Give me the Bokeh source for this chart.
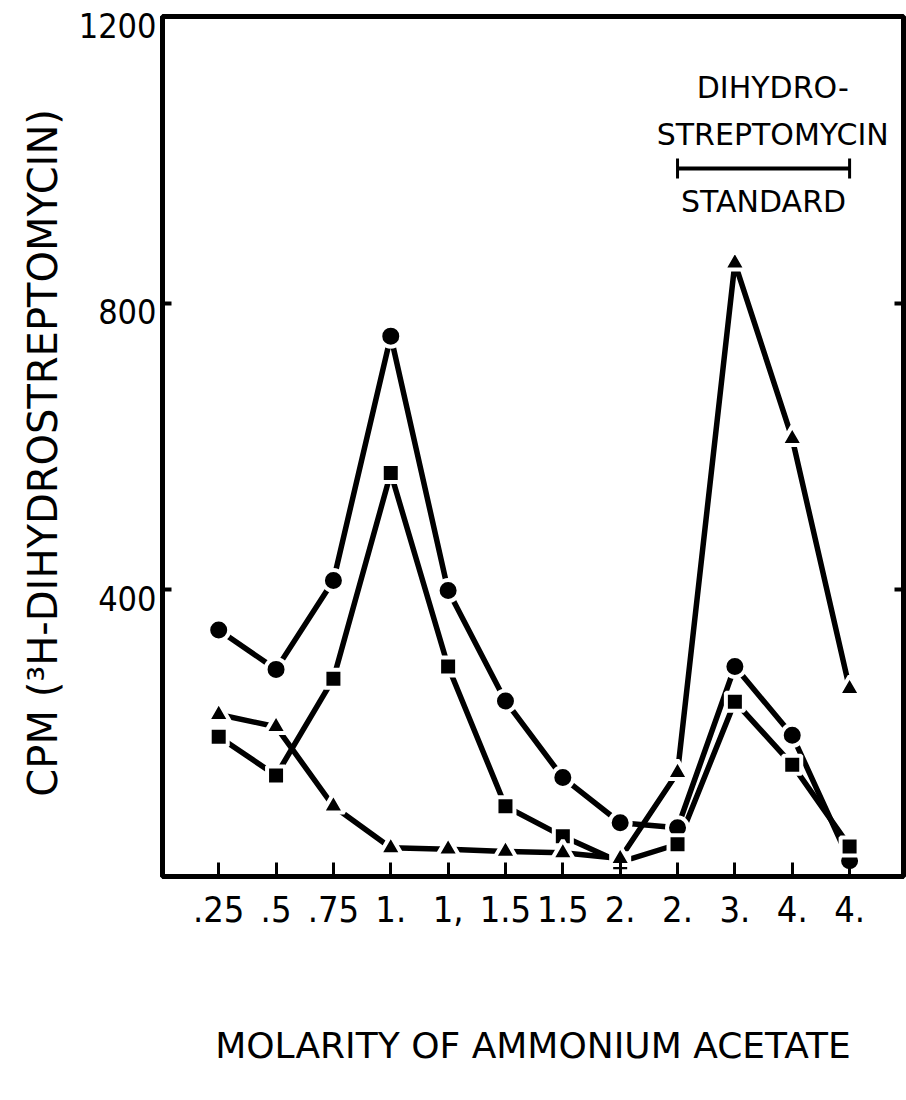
import numpy as np
from bokeh.plotting import figure
from bokeh.models import FixedTicker, LinearAxis, Label, Range1d
from bokeh.embed import file_html
from bokeh.resources import INLINE

# Fractions eluted with ammonium acetate (tick labels as printed)
molarity_labels = [".25", ".5", ".75", "1.", "1,", "1.5", "1.5", "2.", "2.", "3.", "4.", "4."]

# CPM of 3H-dihydrostreptomycin in each fraction
cpm_circles = [344, 289, 413, 754, 399, 245, 138, 75, 68, 293, 197, 22]
cpm_squares = [195, 141, 276, 563, 293, 98, 56, 20, 45, 244, 156, 42]
cpm_triangles = [226, 209, 98, 40, 38, 35, 33, 25, 145, 856, 611, 262]

y_ticks = [400, 800, 1200]
standard_first, standard_last = 8, 11   # fractions spanned by the standard

fractions = list(range(len(molarity_labels)))

NUM_FONT = "DejaVu Sans Condensed"
TXT_FONT = "DejaVu Sans"

p = figure(width=906, height=1100, output_backend="svg", toolbar_location=None,
           x_range=Range1d(-0.98, 11.94), y_range=Range1d(0, 1200),
           min_border_left=162, min_border_right=3, min_border_top=16,
           min_border_bottom=224)
p.background_fill_color = "white"
p.border_fill_color = "white"
p.xgrid.visible = False
p.ygrid.visible = False
p.outline_line_color = "black"
p.outline_line_width = 5

# bottom axis: evenly spaced fractions with molarity labels
xa = p.xaxis[0]
xa.ticker = FixedTicker(ticks=fractions)
xa.major_label_overrides = {i: lab for i, lab in enumerate(molarity_labels)}
xa.axis_line_width = 5
xa.major_tick_in = 14
xa.major_tick_out = 0
xa.major_tick_line_width = 3
xa.minor_tick_line_color = None
xa.major_label_standoff = 19
xa.major_label_text_font = NUM_FONT
xa.major_label_text_font_size = "36px"
xa.major_label_text_color = "black"
xa.axis_label = "MOLARITY OF AMMONIUM ACETATE"
xa.axis_label_text_font = TXT_FONT
xa.axis_label_text_font_style = "normal"
xa.axis_label_text_font_size = "36px"
xa.axis_label_text_color = "black"
xa.axis_label_standoff = 100

# left axis carries the line and inward ticks; numbers sit on a second
# axis whose range is nudged so each number hangs just below its tick
ya = p.yaxis[0]
ya.ticker = FixedTicker(ticks=y_ticks)
ya.axis_line_width = 5
ya.major_tick_in = 9
ya.major_tick_out = 0
ya.major_tick_line_width = 4
ya.minor_tick_line_color = None
ya.major_label_standoff = 0
ya.major_label_overrides = {v: "" for v in y_ticks}

p.extra_y_ranges = {"ylab": Range1d(12, 1212)}
yl = LinearAxis(y_range_name="ylab", ticker=FixedTicker(ticks=y_ticks),
                axis_line_color=None, major_tick_line_color=None,
                minor_tick_line_color=None, major_label_standoff=0,
                major_label_text_font=NUM_FONT, major_label_text_font_size="34px",
                major_label_text_color="black",
                axis_label="CPM  (\u00b3H-DIHYDROSTREPTOMYCIN)",
                axis_label_text_font=TXT_FONT, axis_label_text_font_style="normal",
                axis_label_text_font_size="40px", axis_label_text_color="black",
                axis_label_standoff=10)
p.add_layout(yl, "left")

# inward ticks on the right frame edge
ra = LinearAxis(ticker=FixedTicker(ticks=[400, 800]), axis_line_color=None,
                major_tick_in=9, major_tick_out=0, major_tick_line_width=4,
                minor_tick_line_color=None, major_label_standoff=0,
                major_label_overrides={400: "", 800: ""})
p.add_layout(ra, "right")

# connecting lines first, markers on top with a white halo
for ys in (cpm_circles, cpm_squares, cpm_triangles):
    p.line(fractions, ys, line_color="black", line_width=5.5)

halo = dict(fill_color="black", line_color="white", line_width=4)
p.scatter(fractions, cpm_circles, marker="circle", size=21, **halo)
p.scatter(fractions, cpm_squares, marker="square", size=18, **halo)
p.scatter(fractions, cpm_triangles, marker="triangle", size=22, **halo)

# standard bracket
bracket_y = 988
p.segment(x0=[standard_first], y0=[bracket_y], x1=[standard_last], y1=[bracket_y],
          line_color="black", line_width=4)
p.segment(x0=[standard_first, standard_last], y0=[bracket_y - 14, bracket_y - 14],
          x1=[standard_first, standard_last], y1=[bracket_y + 14, bracket_y + 14],
          line_color="black", line_width=3)

for txt, xx, yy in (("DIHYDRO-", 9.66, 1101), ("STREPTOMYCIN", 9.66, 1036),
                    ("STANDARD", 9.5, 942)):
    p.add_layout(Label(x=xx, y=yy, text=txt, text_align="center",
                       text_baseline="middle", text_font=TXT_FONT,
                       text_font_size="30px", text_color="black"))

open("out.html", "w").write(file_html(p, INLINE))
